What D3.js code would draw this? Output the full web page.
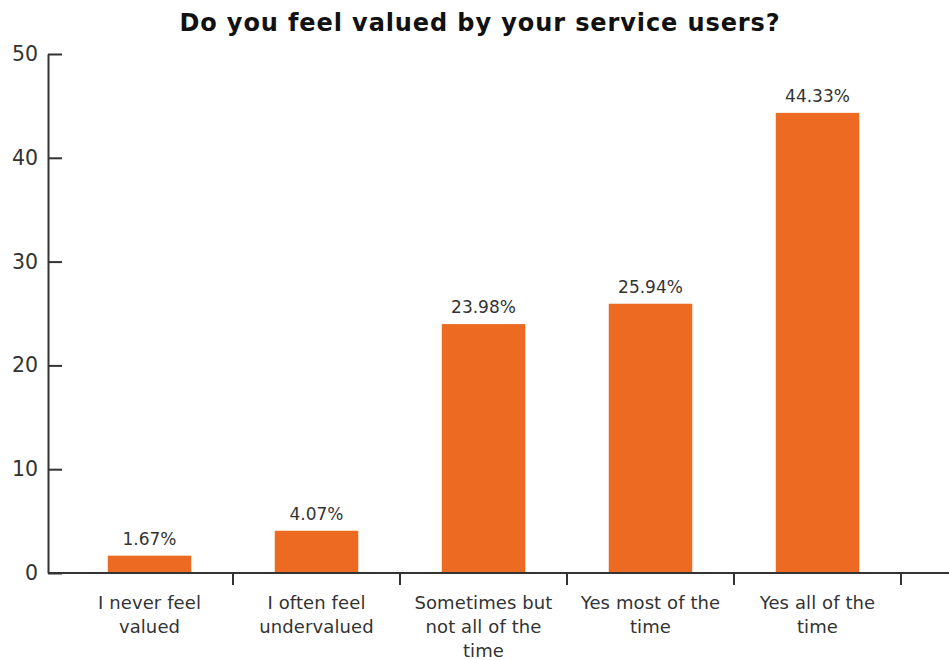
<!DOCTYPE html>
<html>
<head>
<meta charset="utf-8">
<script src="https://cdn.jsdelivr.net/npm/d3@7"></script>
<style>
  body { margin: 0; background: #fff; }
  svg { display: block; }
  text { font-family: "DejaVu Sans", "Noto Sans", sans-serif; }
</style>
</head>
<body>
<svg id="chart" width="949" height="660"></svg>
<script>
const categories = [
  ["I never feel", "valued"],
  ["I often feel", "undervalued"],
  ["Sometimes but", "not all of the", "time"],
  ["Yes most of the", "time"],
  ["Yes all of the", "time"]
];
const values = [1.67, 4.07, 23.98, 25.94, 44.33];
const yTicks = [0, 10, 20, 30, 40, 50];
const title = "Do you feel valued by your service users?";

const svg = d3.select("#chart");
const W = 949, H = 660;
const axisX = 48, bandStart = 66, bandEnd = 901;
const yTop = 54, yBottom = 573;
const orange = "#ED6A23";
const ink = "#333";

const x = d3.scaleBand()
  .domain(d3.range(categories.length))
  .range([bandStart, bandEnd])
  .paddingInner(0.5)
  .paddingOuter(0.25);

const y = d3.scaleLinear().domain([0, 50]).range([yBottom, yTop]);

// title
svg.append("text")
  .attr("x", 480).attr("y", 31)
  .attr("text-anchor", "middle")
  .attr("font-size", 24).attr("font-weight", 700)
  .attr("letter-spacing", 0.9)
  .attr("fill", "#111")
  .text(title);

// bars
svg.append("g").selectAll("rect")
  .data(values)
  .join("rect")
  .attr("x", (d, i) => x(i))
  .attr("width", x.bandwidth())
  .attr("y", d => y(d))
  .attr("height", d => y(0) - y(d))
  .attr("fill", orange);

// value labels
svg.append("g").selectAll("text")
  .data(values)
  .join("text")
  .attr("x", (d, i) => x(i) + x.bandwidth() / 2)
  .attr("y", d => y(d) - 11)
  .attr("text-anchor", "middle")
  .attr("font-size", 17)
  .attr("fill", ink)
  .attr("letter-spacing", 0)
  .text(d => d.toFixed(2) + "%");

// y axis, ticks pointing inward
const yAxis = d3.axisLeft(y).tickValues(yTicks).tickSizeInner(-14).tickSizeOuter(0).tickPadding(10);
const gy = svg.append("g").attr("transform", `translate(${axisX},0)`).call(yAxis);
gy.select(".domain").attr("stroke", ink).attr("stroke-width", 2);
gy.selectAll(".tick line").attr("stroke", ink).attr("stroke-width", 2);
gy.selectAll(".tick text").attr("font-size", 20.5).attr("fill", ink)
  .attr("font-family", "\"DejaVu Sans\", sans-serif");

// x axis line with ticks at band boundaries
const gx = svg.append("g");
gx.append("line")
  .attr("x1", axisX).attr("x2", W)
  .attr("y1", yBottom).attr("y2", yBottom)
  .attr("stroke", ink).attr("stroke-width", 2);
const step = x.step();
gx.selectAll("line.tick")
  .data(d3.range(categories.length))
  .join("line")
  .attr("class", "tick")
  .attr("x1", i => bandStart + step * (i + 1))
  .attr("x2", i => bandStart + step * (i + 1))
  .attr("y1", yBottom).attr("y2", yBottom + 12)
  .attr("stroke", ink).attr("stroke-width", 2);

// category labels
const labels = gx.selectAll("text.cat")
  .data(categories)
  .join("text")
  .attr("class", "cat")
  .attr("text-anchor", "middle")
  .attr("font-size", 18)
  .attr("fill", ink)
  .attr("letter-spacing", 0.1);
labels.selectAll("tspan")
  .data((d, i) => d.map(line => ({ line, i })))
  .join("tspan")
  .attr("x", d => x(d.i) + x.bandwidth() / 2)
  .attr("y", (d, j) => 609 + j * 24)
  .text(d => d.line);
</script>
</body>
</html>
